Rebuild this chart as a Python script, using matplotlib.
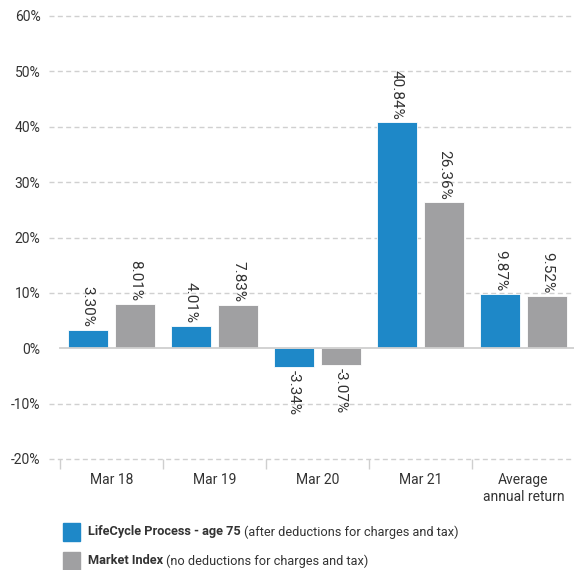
import matplotlib.pyplot as plt
import matplotlib.transforms as mtransforms
from matplotlib.patches import Rectangle
import numpy as np

categories = ['Mar 18', 'Mar 19', 'Mar 20', 'Mar 21', 'Average\nannual return']
lifecycle = [3.30, 4.01, -3.34, 40.84, 9.87]
market = [8.01, 7.83, -3.07, 26.36, 9.52]
series_names = ['LifeCycle Process - age 75', 'Market Index']
series_notes = ['(after deductions for charges and tax)', '(no deductions for charges and tax)']
yticks = [-20, -10, 0, 10, 20, 30, 40, 50, 60]

blue = '#1e88c8'
grey = '#a0a0a2'
txt = '#333333'
plt.rcParams['font.family'] = ['Roboto', 'DejaVu Sans']

fig = plt.figure(figsize=(5.74, 5.70), dpi=100)
ax = fig.add_axes([60 / 574, 1 - 459 / 570, 515 / 574, 443 / 570])

x = np.arange(len(categories))
w = 0.39
off = 0.23
b1 = ax.bar(x - off, lifecycle, w, color=blue, edgecolor='white', linewidth=0.6, zorder=3)
b2 = ax.bar(x + off, market, w, color=grey, edgecolor='white', linewidth=0.6, zorder=3)

for bars, vals in [(b1, lifecycle), (b2, market)]:
    for rect, v in zip(bars, vals):
        cx = rect.get_x() + rect.get_width() / 2
        if v >= 0:
            ax.annotate(f'{v:.2f}%', (cx, v), xytext=(0, 2), textcoords='offset points',
                        rotation=-90, ha='center', va='bottom', fontsize=11, color=txt)
        else:
            ax.annotate(f'{v:.2f}%', (cx, v), xytext=(0, -2), textcoords='offset points',
                        rotation=-90, ha='center', va='top', fontsize=11, color=txt)

ax.set_xlim(-0.5, len(categories) - 0.5)
ax.set_ylim(-20, 60)
for s in ax.spines.values():
    s.set_visible(False)

# gridlines extending left past the axis like tick marks
trans = mtransforms.blended_transform_factory(ax.transAxes, ax.transData)
for t in yticks:
    if t == 0:
        ax.plot([0, 1], [t, t], transform=trans, color='#cfcfcf', lw=1.3, zorder=4, clip_on=False)
    else:
        ax.plot([-11 / 515, 1], [t, t], transform=trans, color='#d0d0d0', lw=1.0,
                dashes=(3.6, 2.4), zorder=1, clip_on=False)
ax.set_yticks(yticks)
ax.set_yticklabels([f'{t}%' for t in yticks], fontsize=10, color=txt)
ax.tick_params(axis='y', length=0, pad=14)

# category separators
ax.set_xticks(np.arange(len(categories) + 1) - 0.5, minor=True)
ax.tick_params(axis='x', which='minor', length=7, color='#cfcfcf', width=1.0)
ax.set_xticks(x)
ax.set_xticklabels(categories, fontsize=10, color=txt, linespacing=1.25)
ax.tick_params(axis='x', which='major', length=0, pad=10)

# legend
legend_y = [532, 561]
colors = [blue, grey]
fig.canvas.draw()
renderer = fig.canvas.get_renderer()
for yy, c, name, note in zip(legend_y, colors, series_names, series_notes):
    fig.patches.append(Rectangle((63 / 574, 1 - (yy + 9) / 570), 17 / 574, 18 / 570,
                                 transform=fig.transFigure, color=c))
    t1 = fig.text(88 / 574, 1 - yy / 570, name, fontsize=9.2, fontweight='bold',
                  color=txt, va='center')
    bb = t1.get_window_extent(renderer)
    fig.text((bb.x1 + 3) / 574, 1 - yy / 570, note, fontsize=9.2, color=txt, va='center')

fig.savefig('out.png', dpi=100)
